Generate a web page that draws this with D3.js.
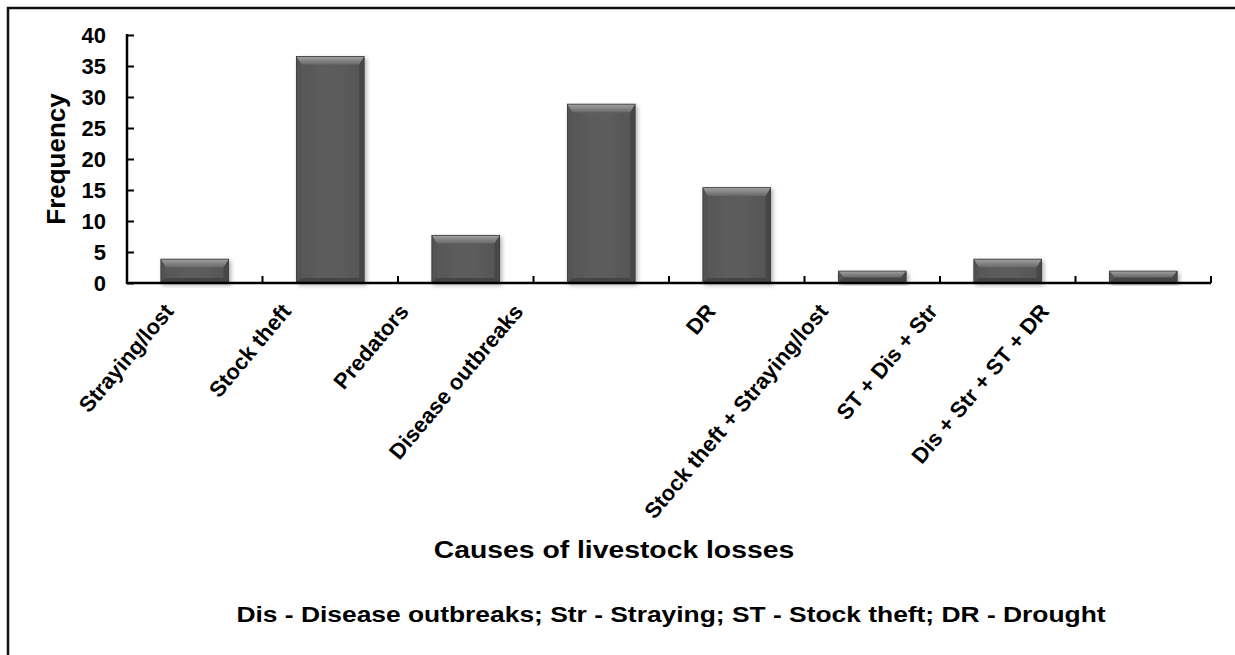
<!DOCTYPE html>
<html>
<head>
<meta charset="utf-8">
<script src="https://cdn.jsdelivr.net/npm/d3@7"></script>
<style>
  html, body { margin: 0; padding: 0; background: #fff; }
  svg { display: block; font-family: "Liberation Sans", Arial, sans-serif; font-weight: bold; }
</style>
</head>
<body>
<svg id="chart" width="1235" height="655"></svg>
<script>
// Causes of livestock losses (frequency, %)
const categories = [
  "Straying/lost", "Stock theft", "Predators", "Disease outbreaks",
  "DR", "Stock theft + Straying/lost", "ST + Dis + Str", "Dis + Str + ST + DR"
];
const frequency = [3.85, 36.54, 7.69, 28.85, 15.38, 1.92, 3.85, 1.92];
const yTicks = [0, 5, 10, 15, 20, 25, 30, 35, 40];

const yTitle = "Frequency";
const xTitle = "Causes of livestock losses";
const footnote = "Dis - Disease outbreaks; Str - Straying; ST - Stock theft; DR - Drought";

// horizontal nudges for the slanted category labels, relative to band centre
const labelShift = [-20, -38, -56, -77, -20, -43, -69, -93];

const svg = d3.select("#chart");
const W = 1235, H = 655;
const plot = { left: 127, right: 1211, top: 35, bottom: 283 };

const x = d3.scaleBand()
  .domain(categories)
  .range([plot.left, plot.right])
  .paddingInner(0.5)
  .paddingOuter(0.25);

const y = d3.scaleLinear().domain([0, 40]).range([plot.bottom, plot.top]);

// frame (top and left edges)
svg.append("path")
  .attr("d", `M8,${H} L8,8 L${W},8`)
  .attr("fill", "none")
  .attr("stroke", "#111")
  .attr("stroke-width", 2.5);

const defs = svg.append("defs");
const shadow = defs.append("filter").attr("id", "barShadow")
  .attr("x", "-20%").attr("y", "-20%").attr("width", "140%").attr("height", "140%");
shadow.append("feDropShadow")
  .attr("dx", 2).attr("dy", 2).attr("stdDeviation", 2)
  .attr("flood-color", "#000").attr("flood-opacity", 0.3);

const topGrad = defs.append("linearGradient").attr("id", "bevelTop")
  .attr("x1", 0).attr("y1", 0).attr("x2", 0).attr("y2", 1);
topGrad.append("stop").attr("offset", "0%").attr("stop-color", "#a2a2a2");
topGrad.append("stop").attr("offset", "100%").attr("stop-color", "#6a6a6a");

const bodyGrad = defs.append("linearGradient").attr("id", "bevelBody")
  .attr("x1", 0).attr("y1", 0).attr("x2", 1).attr("y2", 0);
bodyGrad.append("stop").attr("offset", "0%").attr("stop-color", "#575757");
bodyGrad.append("stop").attr("offset", "50%").attr("stop-color", "#5d5d5d");
bodyGrad.append("stop").attr("offset", "100%").attr("stop-color", "#565656");

// bevelled bars
const bars = svg.append("g").selectAll("g.bar")
  .data(categories.map((c, i) => ({ c, v: frequency[i] })))
  .join("g")
  .attr("class", "bar")
  .attr("filter", "url(#barShadow)");

bars.each(function (d) {
  const g = d3.select(this);
  const x0 = x(d.c), x1 = x0 + x.bandwidth();
  const y0 = y(d.v), y1 = y(0);
  const h = y1 - y0;
  const bt = Math.min(8, h / 2);      // top bevel depth
  const bs = Math.min(5, h / 2);      // side bevel depth
  g.append("rect").attr("x", x0).attr("y", y0).attr("width", x1 - x0).attr("height", h)
    .attr("fill", "url(#bevelBody)");
  g.append("path").attr("d", `M${x0},${y0} L${x0 + bs},${y0 + bt} L${x0 + bs},${y1 - bs} L${x0},${y1} Z`)
    .attr("fill", "#525252");
  g.append("path").attr("d", `M${x1},${y0} L${x1 - bs},${y0 + bt} L${x1 - bs},${y1 - bs} L${x1},${y1} Z`)
    .attr("fill", "#474747");
  g.append("path").attr("d", `M${x0},${y1} L${x0 + bs},${y1 - bs} L${x1 - bs},${y1 - bs} L${x1},${y1} Z`)
    .attr("fill", "#444");
  g.append("path").attr("d", `M${x0},${y0} L${x1},${y0} L${x1 - bs},${y0 + bt} L${x0 + bs},${y0 + bt} Z`)
    .attr("fill", "url(#bevelTop)");
  g.append("rect").attr("x", x0).attr("y", y0).attr("width", x1 - x0).attr("height", h)
    .attr("fill", "none").attr("stroke", "#3a3a3a").attr("stroke-width", 0.8);
});

// y axis: ticks point inward
const yAxis = d3.axisRight(y).tickValues(yTicks).tickSize(7).tickFormat("");
const yg = svg.append("g").attr("transform", `translate(${plot.left},0)`).call(yAxis);
yg.select(".domain").remove();
yg.selectAll(".tick line").attr("stroke", "#000").attr("stroke-width", 2);
svg.append("line")
  .attr("x1", plot.left).attr("x2", plot.left)
  .attr("y1", y(40) - 1).attr("y2", y(0) + 1)
  .attr("stroke", "#000").attr("stroke-width", 2.5);

svg.append("g").selectAll("text")
  .data(yTicks)
  .join("text")
  .attr("x", plot.left - 21)
  .attr("y", d => y(d))
  .attr("dy", "0.36em")
  .attr("text-anchor", "end")
  .attr("font-size", 22)
  .attr("fill", "#000")
  .text(d => d);

// x axis line with boundary tick marks
svg.append("line")
  .attr("x1", plot.left).attr("x2", plot.right)
  .attr("y1", y(0)).attr("y2", y(0))
  .attr("stroke", "#000").attr("stroke-width", 2.5);

const boundaries = categories.map(c => x(c) + x.bandwidth() / 2 + x.step() / 2);
svg.append("g").selectAll("line")
  .data(boundaries)
  .join("line")
  .attr("x1", d => d).attr("x2", d => d)
  .attr("y1", y(0)).attr("y2", y(0) - 7)
  .attr("stroke", "#000").attr("stroke-width", 2);

// slanted category labels
svg.append("g").selectAll("text")
  .data(categories)
  .join("text")
  .attr("transform", (d, i) =>
    `translate(${x(d) + x.bandwidth() / 2 + labelShift[i]},312) rotate(-50)`)
  .attr("text-anchor", "end")
  .attr("font-size", 22)
  .attr("fill", "#000")
  .text(d => d);

// axis titles
svg.append("text")
  .attr("transform", `translate(65,159) rotate(-90)`)
  .attr("text-anchor", "middle")
  .attr("font-size", 26)
  .attr("fill", "#000")
  .text(yTitle);

svg.append("text")
  .attr("transform", "translate(614,558) scale(1.18,1)")
  .attr("text-anchor", "middle")
  .attr("font-size", 24)
  .attr("fill", "#000")
  .text(xTitle);

svg.append("text")
  .attr("transform", "translate(671,622) scale(1.2,1)")
  .attr("text-anchor", "middle")
  .attr("font-size", 22)
  .attr("fill", "#000")
  .text(footnote);
</script>
</body>
</html>
